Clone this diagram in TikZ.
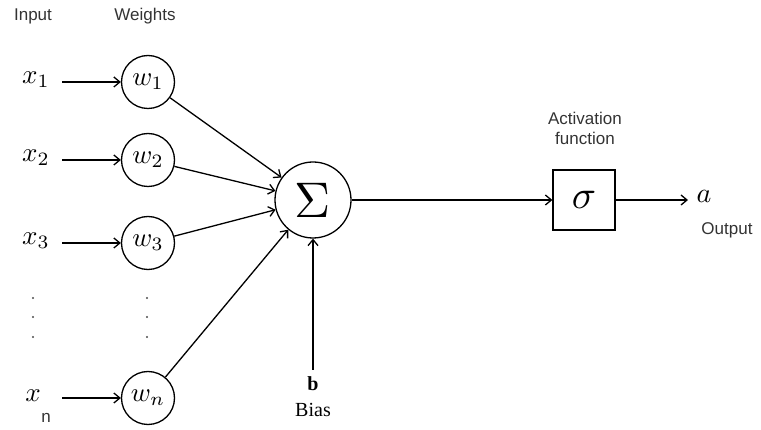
\documentclass[tikz,border=0pt]{standalone}
\usepackage{graphicx}
\usepackage{fontspec}
\setsansfont{Liberation Sans}
\newfontfamily\serifb{Liberation Serif}
\usetikzlibrary{arrows.meta}
\newcommand{\mysc}[2]{\scalebox{#1}{$#2$}}
\begin{document}
\begin{tikzpicture}[x=1pt,y=-1pt,
  lbl/.style={font=\sffamily\fontsize{17}{20}\selectfont, text=black!80},
  wcirc/.style={draw, circle, line width=1.3pt, minimum size=53pt, inner sep=0pt},
  con/.style={line width=1.3pt, -{Straight Barb[length=6pt,width=10pt,line width=1.3pt]}},
  dotc/.style={circle, fill=black!70, inner sep=0pt, minimum size=2.2pt}
]
\useasboundingbox (0,0) rectangle (761,430);
\node[lbl] (linput) at (33,16) {Input};
\node[lbl] (lweights) at (145,16) {Weights};

\node (x1) at (36,80) {\mysc{2.7}{x_1}};
\node (x2) at (36,158) {\mysc{2.7}{x_2}};
\node (x3) at (36,241) {\mysc{2.7}{x_3}};
\node (xn) at (33,396) {\mysc{2.7}{x}};
\node[lbl] (xnsub) at (46,418) {n};

\node[wcirc] (w1) at (148,82) {\mysc{2.7}{w_1}};
\node[wcirc] (w2) at (148,160) {\mysc{2.7}{w_2}};
\node[wcirc] (w3) at (148,243) {\mysc{2.7}{w_3}};
\node[wcirc] (wn) at (148,398) {\mysc{2.7}{w_n}};

\foreach \y [count=\i] in {298,317,337} {
  \node[dotc] (da\i) at (33,\y) {};
  \node[dotc] (db\i) at (147,\y) {};
}

\node[draw, circle, line width=1.3pt, minimum size=76pt, inner sep=0pt] (sig) at (313,200) {\mysc{5}{\Sigma}};

\node[draw, line width=1.3pt, minimum width=62pt, minimum height=60pt, inner sep=0pt] (act) at (584,200) {\mysc{4}{\sigma}};
\node[lbl, align=center] (lact) at (585,128) {Activation\\function};

\node (out) at (704,196) {\mysc{2.8}{a}};
\node[lbl] (lout) at (727,230) {Output};

\node[font=\serifb\bfseries\fontsize{20}{22}\selectfont] (b) at (313,384) {b};
\node[font=\serifb\fontsize{20}{22}\selectfont] (bias) at (313,410) {Bias};

\coordinate (x1s) at (62,82);
\coordinate (x2s) at (62,160);
\coordinate (x3s) at (62,243);
\coordinate (xns) at (62,398);
\coordinate (bs) at (313,370);
\coordinate (outs) at (688,200);

\draw[con] (x1s) -- (w1.west);
\draw[con] (x2s) -- (w2.west);
\draw[con] (x3s) -- (w3.west);
\draw[con] (xns) -- (wn.west);

\draw[con] (w1) -- (sig);
\draw[con] (w2) -- (sig);
\draw[con] (w3) -- (sig);
\draw[con] (wn) -- (sig);
\draw[con] (bs) -- (sig.south);
\draw[con] (sig.east) -- (act.west);
\draw[con] (act.east) -- (outs);
\end{tikzpicture}
\end{document}
